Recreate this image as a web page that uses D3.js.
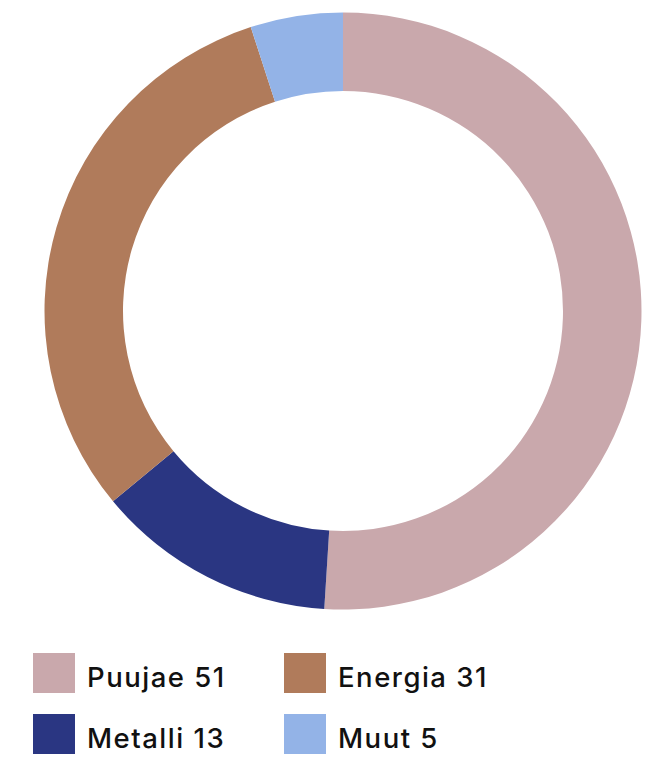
<!DOCTYPE html>
<html>
<head>
<meta charset="utf-8">
<script src="https://cdn.jsdelivr.net/npm/d3@7"></script>
<style>
  html, body { margin: 0; padding: 0; background: #fff; }
  svg { display: block; }
</style>
</head>
<body>
<svg id="chart" width="663" height="757"></svg>
<script>
// Share of the total by sector (percent)
const categories = ["Puujae", "Metalli", "Energia", "Muut"];
const values = [51, 13, 31, 5];
const colors = ["#c9a8ac", "#2a3682", "#b07b5b", "#93b3e7"];
// Legend reading order (row by row)
const legendOrder = ["Puujae", "Energia", "Metalli", "Muut"];

const svg = d3.select("#chart");
const cx = 343, cy = 311, outerR = 298.5, innerR = 220;

const data = categories.map((c, i) => ({ name: c, value: values[i], color: colors[i] }));

const pie = d3.pie().value(d => d.value).sort(null);
const arc = d3.arc().innerRadius(innerR).outerRadius(outerR);

svg.append("g")
  .attr("transform", `translate(${cx},${cy})`)
  .selectAll("path")
  .data(pie(data))
  .join("path")
  .attr("d", arc)
  .attr("fill", d => d.data.color);

// Legend: two columns, two rows
const colX = d3.scaleOrdinal().domain([0, 1]).range([33, 284]);
const rowY = d3.scaleOrdinal().domain([0, 1]).range([653, 714]);

const legend = svg.append("g")
  .selectAll("g")
  .data(legendOrder.map(n => data.find(d => d.name === n)))
  .join("g")
  .attr("transform", (d, i) => `translate(${colX(i % 2)},${rowY(Math.floor(i / 2))})`);

legend.append("rect")
  .attr("width", 42)
  .attr("height", 40)
  .attr("fill", d => d.color);

legend.append("text")
  .attr("x", 54)
  .attr("y", 34)
  .attr("font-family", "Inter, 'Noto Sans', sans-serif")
  .attr("font-size", 27.5)
  .attr("font-weight", 500)
  .attr("letter-spacing", 1.5)
  .attr("fill", "#111")
  .text(d => `${d.name} ${d.value}`);
</script>
</body>
</html>
